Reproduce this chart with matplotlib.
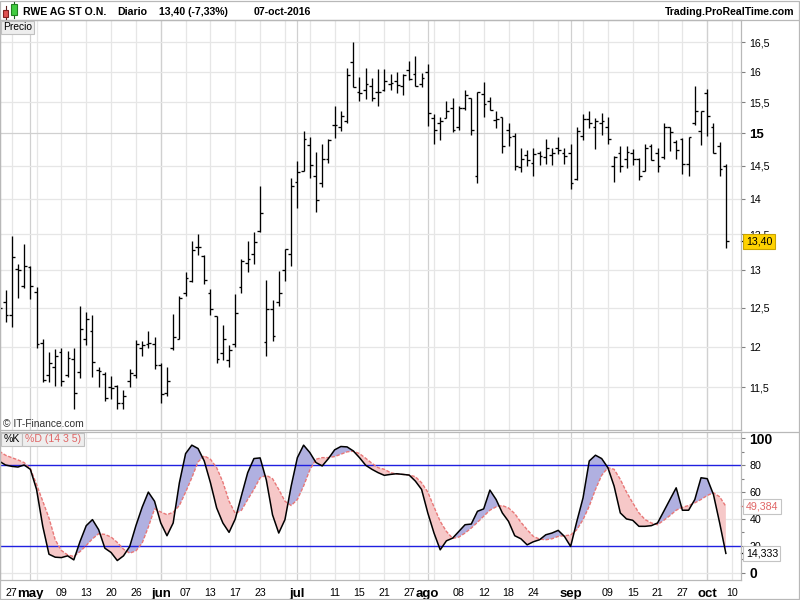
import numpy as np
import matplotlib.pyplot as plt
from matplotlib.patches import Rectangle
from matplotlib.lines import Line2D
from matplotlib.ticker import NullLocator

plt.rcParams['font.family'] = ['Liberation Sans', 'DejaVu Sans']

# RWE AG diario, 25-abr-2016 .. 07-oct-2016 (118 sesiones)
opens = [12.55, 12.58, 12.40, 13.02, 12.79, 13.04, 12.71, 12.05, 11.65, 11.75,
         11.93, 11.65, 11.85, 11.69, 12.10, 12.20, 11.71, 11.66, 11.51, 11.52,
         11.32, 11.58, 11.65, 11.99, 12.04, 12.03, 11.77, 11.44, 11.98, 12.10,
         12.70, 12.85, 13.32, 13.20, 12.70, 12.39, 11.92, 11.83, 12.03, 12.77,
         13.10, 13.23, 13.55, 12.06, 12.48, 12.57, 13.00, 13.23, 14.26, 14.43,
         14.82, 14.35, 14.25, 14.61, 15.13, 15.10, 15.20, 16.16, 15.67, 15.69,
         15.76, 15.66, 15.69, 15.80, 15.84, 15.76, 16.03, 15.96, 15.80, 16.00,
         15.24, 15.17, 15.24, 15.40, 15.10, 15.40, 15.56, 14.35, 15.63, 15.51,
         15.22, 15.26, 15.05, 14.96, 14.48, 14.67, 14.55, 14.69, 14.63, 14.67,
         14.77, 14.70, 14.70, 14.30, 14.96, 15.23, 15.10, 15.16, 15.10, 14.50,
         14.70, 14.60, 14.70, 14.61, 14.43, 14.80, 14.70, 14.64, 15.10, 14.86,
         14.91, 14.53, 15.16, 15.04, 15.65, 15.10, 14.80, 14.50]
highs = [12.58, 12.73, 13.48, 13.09, 13.36, 13.06, 12.77, 12.10, 11.93, 11.97,
         11.98, 11.95, 11.98, 12.52, 12.44, 12.40, 11.75, 11.69, 11.64, 11.53,
         11.47, 11.73, 12.08, 12.07, 12.20, 12.12, 11.80, 11.75, 12.42, 12.65,
         12.98, 13.41, 13.50, 13.21, 12.75, 12.39, 12.28, 12.02, 12.68, 13.15,
         13.41, 13.53, 14.20, 12.87, 12.60, 12.99, 13.29, 14.32, 14.57, 15.04,
         14.95, 14.71, 14.83, 14.91, 15.44, 15.36, 16.06, 16.51, 15.91, 16.06,
         15.89, 16.04, 16.04, 15.97, 16.00, 15.97, 16.18, 16.26, 15.98, 16.13,
         15.31, 15.26, 15.51, 15.57, 15.44, 15.69, 15.57, 15.67, 15.83, 15.58,
         15.36, 15.26, 15.17, 15.00, 14.77, 14.74, 14.77, 14.72, 14.91, 14.78,
         14.94, 14.77, 14.83, 15.10, 15.31, 15.36, 15.24, 15.33, 15.26, 14.65,
         14.80, 14.80, 14.76, 14.62, 14.83, 14.84, 14.78, 15.17, 15.10, 14.89,
         14.93, 14.94, 15.76, 15.36, 15.72, 15.17, 14.86, 14.53]
lows = [12.43, 12.32, 12.25, 12.63, 12.76, 12.62, 11.99, 11.57, 11.57, 11.52,
        11.52, 11.63, 11.24, 11.62, 12.02, 11.63, 11.51, 11.34, 11.36, 11.24,
        11.24, 11.51, 11.61, 11.88, 11.99, 11.73, 11.31, 11.40, 11.96, 12.10,
        12.66, 12.84, 13.21, 12.81, 12.41, 11.80, 11.84, 11.75, 12.00, 12.69,
        12.98, 13.08, 13.53, 11.88, 12.07, 12.52, 12.86, 13.06, 13.88, 14.42,
        14.32, 13.82, 14.19, 14.54, 14.93, 15.04, 15.16, 15.74, 15.51, 15.55,
        15.51, 15.43, 15.68, 15.69, 15.65, 15.61, 15.86, 15.76, 15.75, 15.12,
        14.84, 14.90, 15.24, 15.03, 15.06, 15.38, 14.98, 14.25, 15.26, 15.37,
        15.09, 14.70, 14.81, 14.44, 14.41, 14.50, 14.35, 14.51, 14.53, 14.51,
        14.68, 14.53, 14.16, 14.29, 14.90, 15.09, 14.76, 14.97, 14.84, 14.26,
        14.41, 14.47, 14.51, 14.29, 14.43, 14.59, 14.41, 14.60, 14.73, 14.61,
        14.38, 14.34, 15.14, 14.82, 14.96, 14.70, 14.35, 13.31]
closes = [12.50, 12.40, 13.18, 13.00, 13.06, 12.79, 12.03, 11.59, 11.80, 11.89,
          11.58, 11.86, 11.44, 12.23, 12.35, 11.81, 11.70, 11.38, 11.49, 11.32,
          11.40, 11.68, 12.03, 12.02, 12.05, 11.77, 11.42, 11.58, 12.13, 12.63,
          12.90, 13.28, 13.32, 12.87, 12.48, 11.85, 12.10, 11.96, 12.43, 13.13,
          13.15, 13.39, 13.80, 12.49, 12.14, 12.70, 13.29, 14.20, 14.40, 14.91,
          14.52, 13.99, 14.61, 14.90, 15.13, 15.27, 15.94, 15.74, 15.65, 15.80,
          15.57, 15.67, 15.85, 15.81, 15.78, 15.95, 15.88, 15.76, 15.90, 15.32,
          15.05, 15.20, 15.36, 15.06, 15.41, 15.61, 15.05, 15.66, 15.47, 15.37,
          15.23, 14.80, 14.94, 14.50, 14.60, 14.59, 14.68, 14.65, 14.78, 14.70,
          14.75, 14.65, 14.24, 15.04, 15.23, 15.17, 15.20, 15.19, 14.91, 14.64,
          14.50, 14.71, 14.61, 14.35, 14.77, 14.59, 14.50, 15.10, 15.02, 14.74,
          14.53, 14.94, 15.36, 15.36, 15.27, 14.70, 14.46, 13.40]

# Estocastico %K y %D (14 3 5)
k_line = [83, 80.2, 79.2, 78.7, 80.2, 77, 62, 34.5, 13.7, 11.5,
          11.2, 12.5, 9.5, 23.2, 35, 39.5, 32, 18.2, 15, 9,
          12.5, 19.5, 35, 48.7, 60, 53.2, 37, 27.5, 37, 67,
          88.7, 95, 92.5, 83.2, 67, 48.2, 37, 30, 40, 57.5,
          74.5, 85, 85.5, 69, 43, 29.5, 39.5, 64.5, 85.7, 95,
          89.5, 82, 79.5, 85, 91.5, 94, 93.7, 90.7, 85.7, 80,
          77, 74.5, 72.5, 73.2, 73.7, 73.2, 72.7, 68.2, 62, 44.5,
          29.5, 17, 23.7, 25.7, 30.7, 35.7, 36.2, 45.7, 47.5, 61.5,
          54.5, 44.5, 38.2, 27.5, 25.2, 20.7, 23, 24.5, 28.2, 29.5,
          31.5, 27, 19.5, 38.2, 55.7, 83.2, 87.5, 85, 78.2, 64.5,
          44.5, 40, 39, 34.5, 34.5, 35, 37, 45.7, 54.5, 63.2,
          46.5, 46.5, 54.5, 70.7, 70, 58.2, 37, 14.333]
d_line = [90.5, 87.5, 85.7, 84, 82, 77.5, 65.7, 53.2, 40.7, 24.5,
          16.5, 13.2, 12, 15.7, 20.2, 25.2, 29, 28.5, 26.5, 22.5,
          17.5, 14.5, 16.2, 22, 34, 47.5, 45.2, 43.2, 45, 50,
          60, 70.7, 82.5, 87, 84.5, 78.2, 67.5, 53.2, 44, 46.5,
          54.5, 62, 70.7, 72.5, 70, 62, 53.2, 50, 54.5, 64.5,
          76.5, 84.5, 85.7, 85.7, 86.5, 88.2, 90, 90.5, 88.7, 85.2,
          81.5, 78.2, 77, 74.5, 73.5, 73.2, 72.7, 71.5, 67, 60,
          49, 38.2, 30.7, 25.5, 26.5, 29.5, 33.2, 37.5, 42, 46.5,
          49, 50, 48.2, 44, 37.5, 32, 27, 25, 24.5, 25.2,
          27, 27.5, 28, 32, 39.5, 49.5, 62, 72.5, 78.2, 77,
          69.5, 60, 52, 44.5, 39.5, 37, 35.7, 39, 42.5, 46.5,
          48.7, 50, 52, 54.5, 57.5, 59.5, 56.5, 49.384]

tick_pos = [2, 5, 10, 14, 18, 22, 26, 30, 34, 38, 42, 48, 54, 58, 62, 66, 69,
            74, 78, 82, 86, 92, 98, 102, 106, 110, 114, 118]
tick_lab = ['27', 'may', '09', '13', '20', '26', 'jun', '07', '13', '17', '23',
            'jul', '11', '15', '21', '27', 'ago', '08', '12', '18', '24', 'sep',
            '09', '15', '21', '27', 'oct', '10']
months = ['may', 'jun', 'jul', 'ago', 'sep', 'oct']
price_levels = [11.5, 12, 12.5, 13, 13.5, 14, 14.5, 15, 15.5, 16, 16.5]
stoch_levels = [0, 20, 40, 60, 80, 100]

W, H = 800, 600
def fx(px):
    return px / W
def fy(py):
    return 1 - py / H

fig = plt.figure(figsize=(8, 6), dpi=100)
ax = fig.add_axes([0, fy(430), fx(741), (430 - 20) / H])
ax2 = fig.add_axes([0, fy(580), fx(741), (580 - 432) / H])

x = np.arange(len(closes))
xlim = (0.7 / 6.21, 741.7 / 6.21)
light = '#e6e6e6'
dark = '#d0d0d0'
spine_c = '#b8b8b8'

month_pos = [p for p, l in zip(tick_pos, tick_lab) if l in months]
grid_pos = list(range(2, 119, 4))

for a in (ax, ax2):
    for p in grid_pos:
        a.axvline(p, color=light, lw=0.9, zorder=0)
    for p in month_pos:
        a.axvline(p, color=dark, lw=0.9, zorder=0)
    a.set_xlim(*xlim)
    for s in a.spines.values():
        s.set_color(spine_c)
        s.set_linewidth(0.9)

# --- panel de precios
ax.set_yscale('log')
ax.set_ylim(11.0, 16.89)
for v in price_levels:
    ax.axhline(v, color=dark if v == 15 else light, lw=0.9, zorder=0)
ax.vlines(x, lows, highs, color='black', lw=0.95, zorder=3)
ax.hlines(opens, x - 0.45, x, color='black', lw=0.95, zorder=3)
ax.hlines(closes, x, x + 0.45, color='black', lw=0.95, zorder=3)

ax.yaxis.tick_right()
ax.set_yticks(price_levels)
ax.yaxis.set_minor_locator(NullLocator())
ax.set_yticklabels([('%g' % v).replace('.', ',') for v in price_levels])
ax.tick_params(axis='y', length=3, width=0.8, color='#808080', pad=3, labelsize=7.7)
for lab, v in zip(ax.get_yticklabels(), price_levels):
    if v == 15:
        lab.set_fontweight('bold')
        lab.set_fontsize(9.5)
ax.set_xticks([])

ax.text(1.0065, closes[-1], '13,40', transform=ax.get_yaxis_transform(),
        ha='left', va='center', fontsize=7.7, zorder=10, clip_on=False,
        bbox=dict(boxstyle='square,pad=0.22', fc='#ffd200', ec='#caa400', lw=0.8))
ax.plot([1.0, 1.006], [closes[-1], closes[-1]], transform=ax.get_yaxis_transform(),
        color='black', lw=0.9, clip_on=False)

# --- estocastico
k = np.array(k_line)
d = np.array(d_line)
ax2.set_ylim(-5.5, 104.8)
for v in [0, 40, 60, 100]:
    ax2.axhline(v, color=light, lw=0.9, zorder=0)
ax2.fill_between(x, k, d, where=k >= d, interpolate=True, color='#b0b0e0', lw=0, zorder=1)
ax2.fill_between(x, k, d, where=k < d, interpolate=True, color='#f6c8c8', lw=0, zorder=1)
ax2.axhline(80, color='#2020e0', lw=1.0, zorder=2)
ax2.axhline(20, color='#2020e0', lw=1.0, zorder=2)
ax2.plot(x, d, color='#e87878', lw=1.0, ls=(0, (2.5, 1.2)), zorder=3)
ax2.plot(x, k, color='black', lw=1.1, zorder=4)

ax2.yaxis.tick_right()
ax2.set_yticks(stoch_levels)
ax2.set_yticks([10, 30, 50, 70, 90], minor=True)
ax2.set_yticklabels([str(v) for v in stoch_levels])
ax2.tick_params(axis='y', which='major', length=3, width=0.8, color='#808080', pad=3, labelsize=7.7)
ax2.tick_params(axis='y', which='minor', length=2, width=0.8, color='#808080')
for lab, v in zip(ax2.get_yticklabels(), stoch_levels):
    if v in (0, 100):
        lab.set_fontweight('bold')
        lab.set_fontsize(10)

ax2.set_xticks(tick_pos)
ax2.set_xticklabels(tick_lab)
ax2.tick_params(axis='x', length=0, pad=6, labelsize=7.7)
for lab in ax2.get_xticklabels():
    if lab.get_text() in months:
        lab.set_fontweight('bold')
        lab.set_fontsize(9.5)

ax2.text(1.0065, d[-1], '49,384', transform=ax2.get_yaxis_transform(), color='#e06666',
         ha='left', va='center', fontsize=7.7, zorder=10, clip_on=False,
         bbox=dict(boxstyle='square,pad=0.22', fc='white', ec='#c4c4c4', lw=0.8))
ax2.text(1.0065, k[-1], '14,333', transform=ax2.get_yaxis_transform(), color='black',
         ha='left', va='center', fontsize=7.7, zorder=10, clip_on=False,
         bbox=dict(boxstyle='square,pad=0.22', fc='white', ec='#c4c4c4', lw=0.8))
ax2.plot([1.0, 1.006], [d[-1], d[-1]], transform=ax2.get_yaxis_transform(),
         color='#e06666', lw=0.9, clip_on=False)
ax2.plot([1.0, 1.006], [k[-1], k[-1]], transform=ax2.get_yaxis_transform(),
         color='black', lw=0.9, clip_on=False)

# --- cabecera y marcos
def box(x0, y0, x1, y1, fc, ec):
    fig.patches.append(Rectangle((fx(x0), fy(y1)), (x1 - x0) / W, (y1 - y0) / H,
                                 transform=fig.transFigure, fc=fc, ec=ec, lw=0.8, zorder=20))

def hline(y, x0, x1, c=spine_c):
    fig.lines.append(Line2D([fx(x0), fx(x1)], [fy(y), fy(y)], transform=fig.transFigure,
                            color=c, lw=0.9))

hline(20, 0, 800)
hline(432, 741, 800)
fig.patches.append(Rectangle((0.0005, 0.001), 0.998, 0.998, transform=fig.transFigure,
                             fill=False, ec=spine_c, lw=0.9))

# icono
fig.lines.append(Line2D([fx(5.5), fx(5.5)], [fy(6), fy(19)], transform=fig.transFigure, color='#602020', lw=0.8))
fig.lines.append(Line2D([fx(14), fx(14)], [fy(1.5), fy(18)], transform=fig.transFigure, color='#206020', lw=0.8))
box(3, 10, 8, 17, '#e05050', '#802020')
box(11, 4, 17, 15, '#40cc40', '#208020')

fig.text(fx(23), fy(15), 'RWE AG ST O.N.', fontweight='bold', fontsize=7.6)
fig.text(fx(117), fy(15), 'Diario', fontweight='bold', fontsize=7.6)
fig.text(fx(159), fy(15), '13,40 (-7,33%)', fontweight='bold', fontsize=7.6)
fig.text(fx(254), fy(15), '07-oct-2016', fontweight='bold', fontsize=7.6)
fig.text(fx(794), fy(15), 'Trading.ProRealTime.com', fontweight='bold', fontsize=7.6, ha='right')

box(1, 21, 34, 34, '#eeeeee', '#c0c0c0')
fig.text(fx(3), fy(27.5), 'Precio', fontsize=7.4, va='center', zorder=21)
fig.text(fx(3), fy(424), '\u00a9 IT-Finance.com', fontsize=7.4, va='center', color='#333333')

box(1, 433, 22, 446, '#eeeeee', '#c0c0c0')
box(22, 433, 84, 446, '#eeeeee', '#c0c0c0')
fig.text(fx(4), fy(439.5), '%K', fontsize=7.6, va='center', zorder=21)
fig.text(fx(25), fy(439.5), '%D (14 3 5)', fontsize=7.6, va='center', color='#e06666', zorder=21)

fig.savefig('out.png', dpi=100)
